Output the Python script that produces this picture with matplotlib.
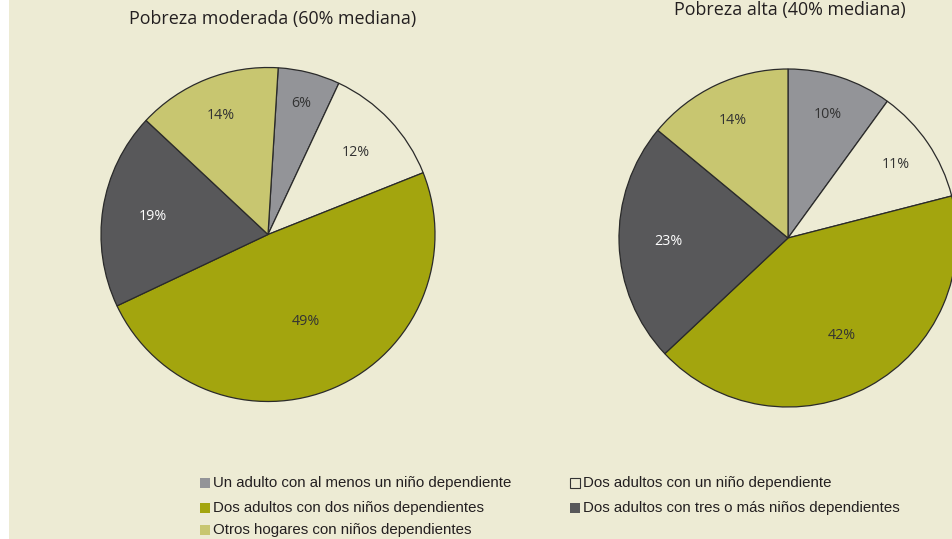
import matplotlib
matplotlib.use("Agg")
import matplotlib.pyplot as plt
import numpy as np
from matplotlib.patches import Rectangle

# ---- data ----
categories = [
    "Un adulto con al menos un niño dependiente",
    "Dos adultos con un niño dependiente",
    "Dos adultos con dos niños dependientes",
    "Dos adultos con tres o más niños dependientes",
    "Otros hogares con niños dependientes",
]
moderada_values = [6, 12, 49, 19, 14]
alta_values = [10, 11, 42, 23, 14]
titles = ["Pobreza moderada (60% mediana)", "Pobreza alta (40% mediana)"]

# ---- style ----
BG = "#EDEBD4"
colors = ["#939498", "#EDEBD4", "#A3A50E", "#58585A", "#C8C670"]
label_colors = ["#333333", "#333333", "#333333", "#FFFFFF", "#333333"]
W, H = 952, 539

fig = plt.figure(figsize=(W / 100, H / 100), dpi=100)
fig.patch.set_facecolor("white")
fig.add_artist(Rectangle((9 / W, 0), 1 - 9 / W, 1, transform=fig.transFigure,
                         facecolor=BG, edgecolor="none", zorder=-10))

def add_pie(values, cx, cy, r, startangle, fracs, title, title_xy):
    ax = fig.add_axes([(cx - r) / W, 1 - (cy + r) / H, 2 * r / W, 2 * r / H])
    wedges, _ = ax.pie(values, colors=colors, startangle=startangle, counterclock=False,
                       radius=1, wedgeprops=dict(edgecolor="#2a2a2a", linewidth=0.9))
    ax.set_xlim(-1, 1)
    ax.set_ylim(-1, 1)
    ax.set_aspect("auto")
    ax.axis("off")
    for w in wedges:
        w.set_clip_on(False)
    for w, v, f, lc in zip(wedges, values, fracs, label_colors):
        mid = np.deg2rad((w.theta1 + w.theta2) / 2)
        ax.text(f * np.cos(mid), f * np.sin(mid), f"{v}%", ha="center", va="center",
                fontsize=10.3, color=lc, family="Open Sans")
    fig.text(title_xy[0] / W, 1 - title_xy[1] / H, title, ha="center", va="center",
             fontsize=12.9, color="#231f20", family="Open Sans")

add_pie(moderada_values, 268, 234.5, 167, 86.5, [0.81, 0.72, 0.57, 0.70, 0.77],
        titles[0], (273, 19))
add_pie(alta_values, 788, 238, 169, 90, [0.77, 0.77, 0.66, 0.71, 0.77],
        titles[1], (790, 10))

# ---- legend ----
leg_pos = [(200, 483), (570, 483), (200, 508), (570, 508), (200, 530)]
for (x, y), cat, c in zip(leg_pos, categories, colors):
    fig.add_artist(Rectangle((x / W, 1 - (y + 5) / H), 10 / W, 10 / H,
                             transform=fig.transFigure, facecolor=c,
                             edgecolor="#333333" if c == BG else "none", linewidth=0.8))
    fig.text((x + 13) / W, 1 - y / H, cat, ha="left", va="center", fontsize=10.8,
             color="#231f20", family="Liberation Sans")

fig.savefig("out.png", dpi=100, facecolor=fig.get_facecolor())
